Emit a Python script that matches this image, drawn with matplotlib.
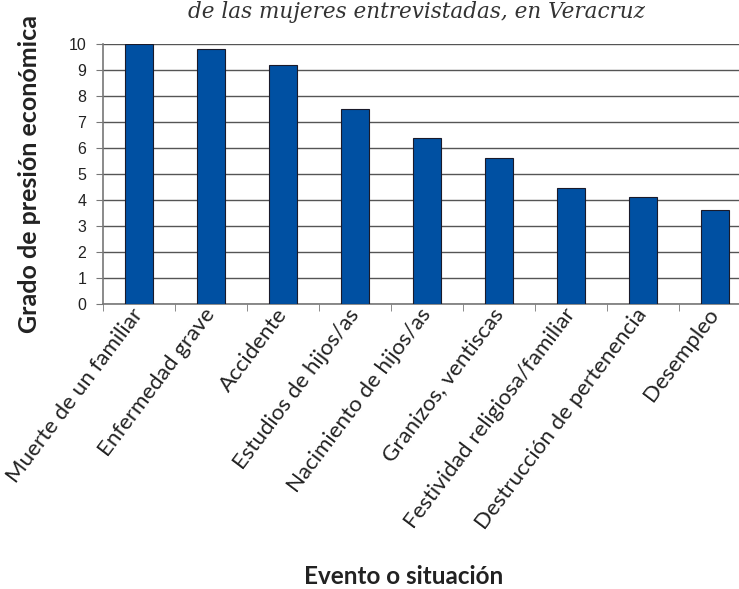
import numpy as np
import matplotlib
matplotlib.use('Agg')
import matplotlib.pyplot as plt

# datos
eventos = ['Muerte de un familiar', 'Enfermedad grave', 'Accidente',
           'Estudios de hijos/as', 'Nacimiento de hijos/as', 'Granizos, ventiscas',
           'Festividad religiosa/familiar', 'Destrucción de pertenencia', 'Desempleo']
grado = [10.0, 9.8, 9.2, 7.5, 6.4, 5.6, 4.45, 4.1, 3.6]
yticks = list(range(0, 11))

W, H = 739, 589
fig = plt.figure(figsize=(W / 100, H / 100), dpi=100)
# el eje derecho queda recortado en el original
ax = fig.add_axes([103 / W, 1 - 304 / H, 648 / W, 260 / H])

x = np.arange(len(eventos))
ax.bar(x, grado, width=0.4, color='#0050a2', edgecolor='#1a1a2a', linewidth=0.8, zorder=3)

ax.set_xlim(-0.5, len(eventos) - 0.5)
ax.set_ylim(0, 10)
ax.set_yticks(yticks)
ax.yaxis.grid(True, color='#555555', linewidth=1.0, zorder=0)
ax.set_axisbelow(True)

for s in ['top', 'right']:
    ax.spines[s].set_visible(False)
for s in ['left', 'bottom']:
    ax.spines[s].set_color('#777777')
    ax.spines[s].set_linewidth(1.2)

ax.tick_params(axis='y', direction='out', length=5, color='#777777', pad=7,
               labelsize=11.5, labelcolor='#222222')
for t in ax.get_yticklabels():
    t.set_family('Liberation Sans')

ax.set_xticks(x)
ax.set_xticks(np.arange(-0.5, len(eventos), 1.0), minor=True)
ax.tick_params(axis='x', which='major', length=0, pad=5)
ax.tick_params(axis='x', which='minor', direction='out', length=5, color='#777777')
ax.set_xticklabels(eventos, rotation=53, ha='right', va='center', rotation_mode='anchor',
                   fontsize=16, family='Lato', color='#222222')

fig.text(30 / W, 1 - 174 / H, 'Grado de presión económica', rotation=90,
         ha='center', va='center', fontsize=18, fontweight='bold', family='Lato',
         color='#222222')
fig.text(404 / W, 1 - 576 / H, 'Evento o situación', ha='center', va='center',
         fontsize=17.5, fontweight='bold', family='Lato', color='#222222')
fig.text(417 / W, 1 - 18 / H, 'de las mujeres entrevistadas, en Veracruz',
         ha='center', va='baseline', fontsize=15.5, style='italic', family='DejaVu Serif',
         color='#333333')

fig.savefig('out.png', dpi=100)
